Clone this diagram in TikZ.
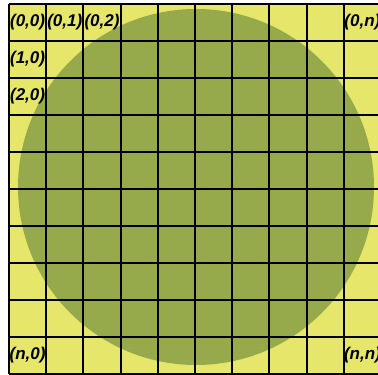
\documentclass[tikz,border=0pt]{standalone}
\usepackage{fontspec}
\setmainfont{Liberation Sans}
\usepackage{xcolor}
\usepackage{tikz}
\usetikzlibrary{positioning, calc}

\definecolor{padyellow}{HTML}{E6E76A}
\definecolor{discgreen}{HTML}{97AA4B}

\begin{document}
\begin{tikzpicture}[x=37.2pt, y=37pt,
  idx/.style={font=\fontsize{17}{18}\selectfont\bfseries\itshape, inner sep=0pt}]
% Frame of the image
\clip (-0.242,-0.027) rectangle (9.919,10.108);
\fill[white] (-0.242,-0.027) rectangle (9.919,10.108);

% Square background
\fill[padyellow] (0,0) rectangle (10,10);

% Disc inside the square
\fill[discgreen] (5.027,5.054) circle [radius=178pt];

% Cells
\draw[line width=1.9pt, step=1] (0,0) grid (10,10);

% Index labels
\node[idx] (a00) at (0.5, 9.5) {(0,0)};
\node[idx] (a01) at (1.5, 9.5) {(0,1)};
\node[idx] (a02) at (2.5, 9.5) {(0,2)};
\node[idx] (a0n) at (9.5, 9.5) {(0,n)};
\node[idx] (a10) at (0.5, 8.5) {(1,0)};
\node[idx] (a20) at (0.5, 7.5) {(2,0)};
\node[idx] (an0) at (0.5, 0.5) {(n,0)};
\node[idx] (ann) at (9.5, 0.5) {(n,n)};
\end{tikzpicture}
\end{document}
